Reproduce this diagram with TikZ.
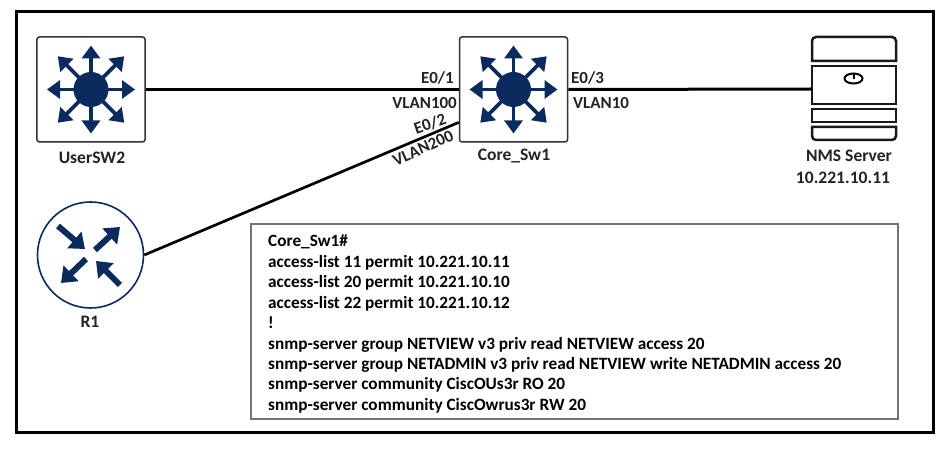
\documentclass[tikz,border=0pt]{standalone}
\usepackage{fontspec}
\setmainfont{Carlito}
\usepackage{tikz}
\usetikzlibrary{arrows.meta}
\definecolor{ciscoblue}{RGB}{11,42,94}
\definecolor{txtgrey}{RGB}{35,35,35}
\tikzset{
  devbox/.style={draw=black!80,line width=1.5bp,rounded corners=2.5pt,minimum width=108bp,minimum height=105bp,inner sep=0pt},
  devtxt/.style={font=\bfseries\fontsize{17.6}{20}\selectfont,text=txtgrey,inner sep=0pt},
  portlbl/.style={font=\bfseries\fontsize{17}{20}\selectfont,text=txtgrey,inner sep=0pt},
  wire/.style={line width=3bp,black},
  spoke/.style={line width=3.8bp,ciscoblue,-{Triangle[length=13bp,width=18bp]}},
  rarrow/.style={line width=6bp,ciscoblue,-{Triangle[length=14bp,width=21bp]}},
  srvpart/.style={draw=black!90,line width=2.5bp}
}
% switch glyph drawn at a named centre
\newcommand{\swglyph}[1]{
  \foreach \ang/\len in {0/44,45/47,90/44,135/47,180/44,225/47,270/44,315/47}
    \draw[spoke] (#1.center) -- ++(\ang:\len);
  \fill[ciscoblue] (#1.center) circle (17.5bp);
}
\begin{document}
\begin{tikzpicture}[x=1bp,y=-1bp]
\useasboundingbox (0,0) rectangle (951,451);
\fill[white] (0,0) rectangle (951,451);
\node[draw=black,line width=3bp,minimum width=916bp,minimum height=421bp,inner sep=0pt] (frame) at (475,222) {};

\node[devbox] (usersw) at (91,89.5) {};
\node[devbox] (coresw) at (513.5,89.5) {};
\swglyph{usersw}
\swglyph{coresw}
\node[devtxt] (userlbl) at (92,158) {UserSW2};
\node[devtxt] (corelbl) at (514,156) {Core\_Sw1};

% router
\node[draw=ciscoblue,line width=1.6bp,circle,minimum size=106bp,inner sep=0pt] (r1) at (90.5,255) {};
\foreach \sx/\sy/\ex/\ey in {58/226/85/249, 95/250/120/227, 86/259/61/283, 120/285/96/261}
  \draw[rarrow] (\sx,\sy) -- (\ex,\ey);
\node[devtxt] (r1lbl) at (90,322) {R1};

% server
\draw[srvpart] (812,61) [rounded corners=4bp] -- (812,37) -- (896,37) [sharp corners] -- (896,61) -- cycle;
\node[srvpart,minimum width=84bp,minimum height=38bp,inner sep=0pt] (srvmid) at (854,85) {};
\node[srvpart,minimum width=84bp,minimum height=13bp,inner sep=0pt] (srvslot) at (854,115.5) {};
\draw[srvpart] (812,127) [rounded corners=4bp] -- (812,140) -- (896,140) [sharp corners] -- (896,127) -- cycle;
\draw[line width=2bp,black] (853.5,78.5) ellipse (9bp and 5bp);
\draw[line width=2bp,black] (853.5,73) -- (853.5,79);
\node[devtxt] (srvlbl) at (849,156) {NMS Server};
\node[devtxt] (srvip) at (843,178) {10.221.10.11};

\draw[wire] (usersw.east) -- (coresw.west);
\coordinate (srvport) at (812,89);
\draw[wire] (coresw.east) -- (srvport);
\draw[wire,line width=2.7bp] (r1.east) -- (coresw.211);

\node[portlbl,anchor=east] (e01) at (454,78) {E0/1};
\node[portlbl,anchor=east] (v100) at (457,103) {VLAN100};
\node[portlbl,rotate=19] (e02) at (430,124) {E0/2};
\node[portlbl,rotate=24] (v200) at (423,148) {VLAN200};
\node[portlbl,anchor=west] (e03) at (571,78) {E0/3};
\node[portlbl,anchor=west] (v10) at (573,103) {VLAN10};

% config
\node[draw=black!55,line width=1.2bp,minimum width=647bp,minimum height=195bp,inner sep=0pt] (cfgbox) at (574.5,321.5) {};
\node[anchor=north west,align=left,inner sep=0pt,text=black,font=\bfseries\fontsize{17.3}{20.5}\selectfont] (cfgtxt) at (268,235) {Core\_Sw1\#\\
access-list 11 permit 10.221.10.11\\
access-list 20 permit 10.221.10.10\\
access-list 22 permit 10.221.10.12\\
!\\
snmp-server group NETVIEW v3 priv read NETVIEW access 20\\
snmp-server group NETADMIN v3 priv read NETVIEW write NETADMIN access 20\\
snmp-server community CiscOUs3r RO 20\\
snmp-server community CiscOwrus3r RW 20};
\end{tikzpicture}
\end{document}
